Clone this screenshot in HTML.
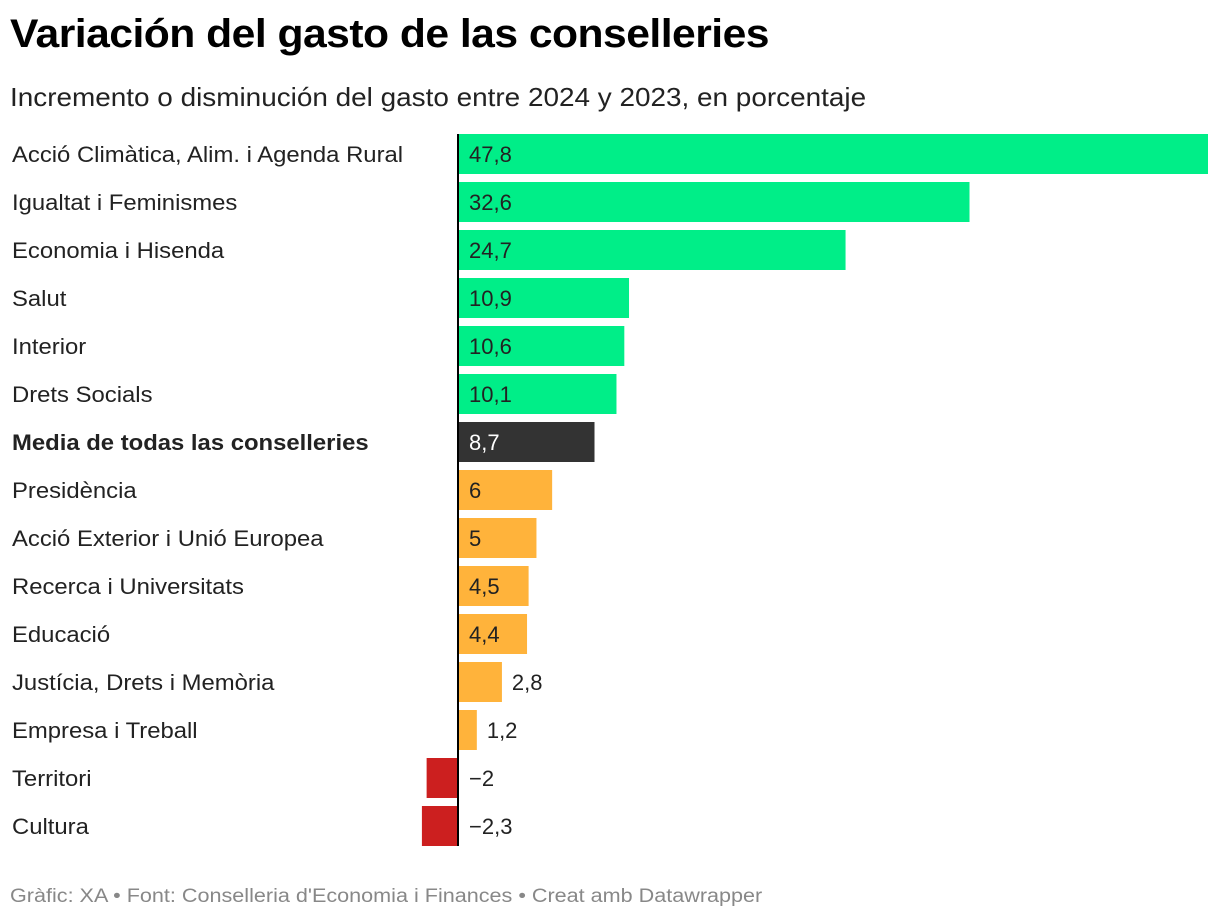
<!DOCTYPE html>
<html><head><meta charset="utf-8">
<style>
body{margin:0;background:#fff;font-family:"Liberation Sans",Arial,sans-serif;}
#wrap{position:relative;width:1220px;height:922px;overflow:hidden;}
h1{position:absolute;left:10px;top:12px;margin:0;font-size:40px;font-weight:bold;color:#000;letter-spacing:-0.5px;transform:scaleX(1.066);transform-origin:0 0;white-space:nowrap;}
.sub{position:absolute;left:10px;top:82px;font-size:26px;color:#222;transform:scaleX(1.073);transform-origin:0 0;white-space:nowrap;}
.foot{position:absolute;left:10px;top:886px;font-size:19px;color:#888;transform:scaleX(1.136);transform-origin:0 0;white-space:nowrap;}
</style></head>
<body><div id="wrap">
<h1>Variación del gasto de las conselleries</h1>
<div class="sub">Incremento o disminución del gasto entre 2024 y 2023, en porcentaje</div>
<svg id="svg" width="1220" height="922" style="position:absolute;left:0;top:0"></svg>
<div class="foot">Gràfic: XA • Font: Conselleria d'Economia i Finances • Creat amb Datawrapper</div>
</div>
<script>
const categories=["Acció Climàtica, Alim. i Agenda Rural","Igualtat i Feminismes","Economia i Hisenda","Salut","Interior","Drets Socials","Media de todas las conselleries","Presidència","Acció Exterior i Unió Europea","Recerca i Universitats","Educació","Justícia, Drets i Memòria","Empresa i Treball","Territori","Cultura"];
const values=[47.8,32.6,24.7,10.9,10.6,10.1,8.7,6,5,4.5,4.4,2.8,1.2,-2,-2.3];
const valueLabels=["47,8","32,6","24,7","10,9","10,6","10,1","8,7","6","5","4,5","4,4","2,8","1,2","−2","−2,3"];
const highlight=[false,false,false,false,false,false,true,false,false,false,false,false,false,false,false];
const NS="http://www.w3.org/2000/svg";
const svg=document.getElementById('svg');
const x0=458, pxPer=(1208-458)/47.8, top0=134, pitch=48, bh=40;
const xScale=v=>x0+v*pxPer;
const yScale=i=>top0+i*pitch;
function mk(t,a,p){const e=document.createElementNS(NS,t);for(const k in a)e.setAttribute(k,a[k]);(p||svg).appendChild(e);return e;}
const lg=mk('g',{transform:'translate(12,0) scale(1.085,1)'});
values.forEach((v,i)=>{
  const y=yScale(i);
  const x1=Math.min(xScale(0),xScale(v)), w=Math.abs(xScale(v)-xScale(0));
  let col = highlight[i] ? "#333333" : v>=8.7 ? "#00ee88" : v>=0 ? "#ffb33b" : "#cc1f1f";
  const r=mk('rect',{x:x1,y:y,width:w,height:bh,fill:col});
  
  
  const lab=mk('text',{x:0,y:y+28,'font-size':22,fill:'#222','font-weight':highlight[i]?'bold':'normal'},lg);
  lab.textContent=categories[i];
  
  
  const inside=v>0&&w>55;
  const tx=v<0?469:(inside?469:xScale(v)+10);
  const t=mk('text',{x:tx,y:y+28,'font-size':22,fill:highlight[i]?'#fff':'#222'});
  t.textContent=valueLabels[i];
  
  
});
const zl=mk('line',{x1:x0,x2:x0,y1:top0,y2:yScale(values.length-1)+bh,stroke:'#000','stroke-width':2});


</script>
</body></html>
